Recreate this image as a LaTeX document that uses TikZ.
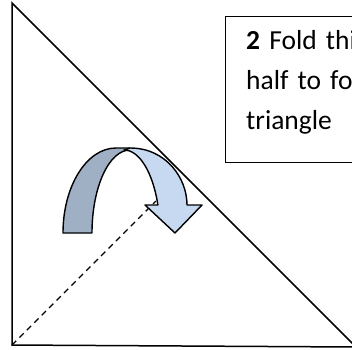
\documentclass[tikz,border=0pt]{standalone}
\usepackage{fontspec}
\setmainfont{Carlito}
\usetikzlibrary{positioning}
\definecolor{backblue}{RGB}{160,176,196}
\definecolor{frontblue}{RGB}{198,217,240}
\tikzset{
  sheet/.style={draw,line width=1.5pt,line join=miter},
  foldline/.style={draw,line width=1.2pt,dash pattern=on 6pt off 4.5pt},
  band/.style={draw,line width=1.4pt,line join=round},
  notebox/.style={draw,line width=1pt,rectangle,minimum width=220pt,minimum height=146pt},
  notetext/.style={align=left,text width=185pt,inner xsep=21pt,
    font=\fontsize{27.5}{40}\selectfont}
}

\begin{document}
\begin{tikzpicture}[x=1pt,y=-1pt]
  \clip (0,0) rectangle (352,349);
  \coordinate (apex) at (12,3);
  \coordinate (corner) at (12,345);
  \coordinate (tip) at (356,347);
  \coordinate (crease) at (156,201);

  \draw[sheet] (apex)--(corner)--(tip)--cycle;
  \draw[foldline] (corner)--(crease);

  % back of the ribbon, then the front with its head
  \filldraw[band,fill=backblue] (63,233) arc[start angle=180,end angle=270,x radius=53,y radius=85]
    --(130,148)--(130,150) arc[start angle=270,end angle=180,x radius=38,y radius=83]--cycle;
  \filldraw[band,fill=frontblue] (124,150)--(130,148)
    .. controls (166,148) and (187,178) .. (187,205)
    --(202,205)--(175,233)--(145,205)--(157.9,205)
    arc[start angle=340.3,end angle=270,x radius=36,y radius=83]--cycle;

  \node[notebox,anchor=north west] (note) at (225,16) {};
  \node[notetext,anchor=north west] (notetext) at ([shift={(0,11)}]note.north west)
    {\textbf{2} Fold this in\\half to form a\\triangle};
\end{tikzpicture}
\end{document}
